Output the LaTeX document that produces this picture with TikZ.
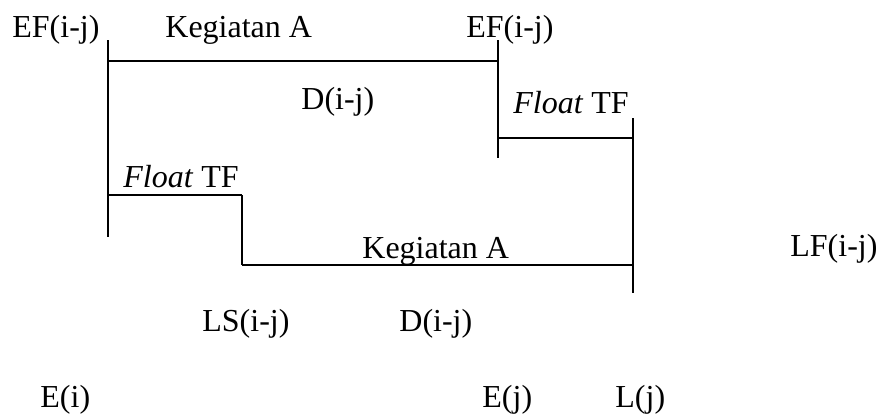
\documentclass[tikz,border=0pt]{standalone}
\usepackage{fontspec}
\setmainfont{Liberation Serif}
\usetikzlibrary{positioning}
\tikzstyle{timetext} = [
    anchor=base west,
    inner sep=0pt,
    font=\fontsize{16}{19}\selectfont
]
\tikzstyle{bar} = [
    draw=black,
    line width=1.2pt
]
\tikzstyle{tick} = [
    draw=black,
    line width=0.8pt
]

\begin{document}
\begin{tikzpicture}[x=0.5pt, y=-0.5pt]
    \useasboundingbox (0,0) rectangle (880,414);

    % Corner points
    \coordinate (esTop) at (108,40);
    \coordinate (esBot) at (108,237);
    \coordinate (esBar) at (108,61);
    \coordinate (efBar) at (498,61);
    \coordinate (efTop) at (498,40);
    \coordinate (efBot) at (498,158);
    \coordinate (efFlt) at (498,138);
    \coordinate (lfFlt) at (633,138);
    \coordinate (lfTop) at (633,118);
    \coordinate (lfBot) at (633,293);
    \coordinate (lfBar) at (633,265);
    \coordinate (esFlt) at (108,195);
    \coordinate (lsFlt) at (242,195);
    \coordinate (lsBar) at (242,265);

    % Time marks
    \draw[tick] (esTop) -- (esBot);
    \draw[tick] (efTop) -- (efBot);
    \draw[tick] (lfTop) -- (lfBot);

    % Activity bars and floats
    \draw[bar] (esBar) -- (efBar);
    \draw[bar] (efFlt) -- (lfFlt);
    \draw[bar] (esFlt) -- (lsFlt);
    \draw[tick] (lsFlt) -- (lsBar);
    \draw[bar] (lsBar) -- (lfBar);

    % Texts
    \node[timetext] (efLeft) at (12,37) {EF(i-j)};
    \node[timetext] (actTop) at (165,37) {Kegiatan A};
    \node[timetext] (efRight) at (466,37) {EF(i-j)};
    \node[timetext] (durTop) at (301,109) {D(i-j)};
    \node[timetext] (fltTop) at (513,113) {\textit{Float} TF};
    \node[timetext] (fltBot) at (123,187) {\textit{Float} TF};
    \node[timetext] (actBot) at (362,258) {Kegiatan A};
    \node[timetext] (lfText) at (790,256) {LF(i-j)};
    \node[timetext] (lsText) at (202,331) {LS(i-j)};
    \node[timetext] (durBot) at (399,331) {D(i-j)};
    \node[timetext] (eventI) at (40,407) {E(i)};
    \node[timetext] (eventJ) at (482,407) {E(j)};
    \node[timetext] (lateJ) at (615,407) {L(j)};
\end{tikzpicture}
\end{document}
